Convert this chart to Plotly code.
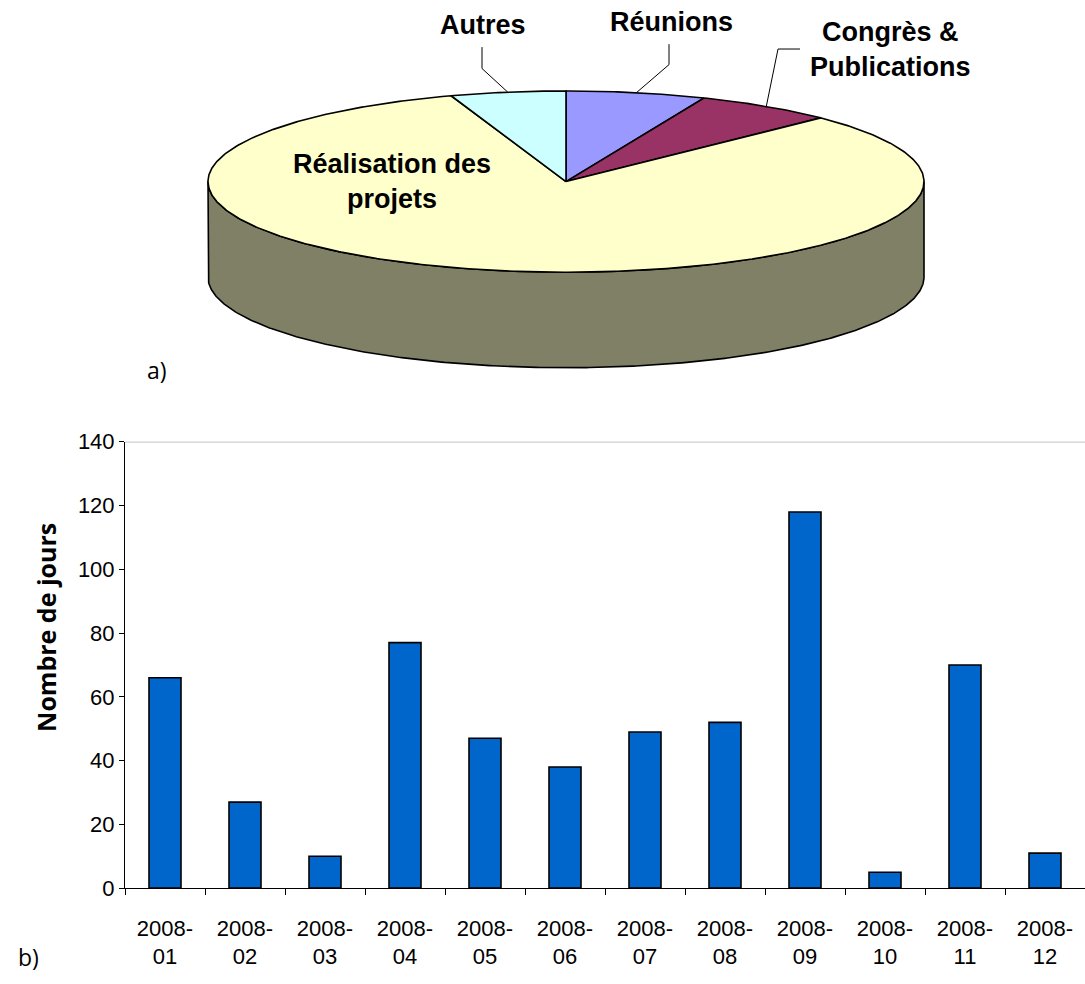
import numpy as np
import plotly.graph_objects as go

# ---- data -----------------------------------------------------------------
months = ["2008-01", "2008-02", "2008-03", "2008-04", "2008-05", "2008-06",
          "2008-07", "2008-08", "2008-09", "2008-10", "2008-11", "2008-12"]
jours = [66, 27, 10, 77, 47, 38, 49, 52, 118, 5, 70, 11]

pie_labels = ["Réunions", "Congrès & Publications", "Réalisation des projets", "Autres"]
pie_values = [6.3, 6.3, 82.2, 5.2]          # percent of time
pie_colors = ["#9999FF", "#993366", "#FFFFCC", "#CCFFFF"]
pie_side_colors = ["#4D4D80", "#4D1A33", "#808066", "#668080"]

y_ticks = [0, 20, 40, 60, 80, 100, 120, 140]

# ---- page geometry --------------------------------------------------------
W, H = 1085, 984
PIE_BAND = 392                      # height (px) of the top band for the pie
CX, CY, RX, RY, DEPTH = 566, 174, 358, 93, 98

ARIAL = "Liberation Sans, Arial, sans-serif"
CALIBRI = "Open Sans, Carlito, Calibri, sans-serif"


def ellipse_pts(a0, a1, dy=0.0):
    """Points of the tilted pie rim between angles a0..a1 (deg, clockwise from 12 o'clock)."""
    n = max(int(abs(a1 - a0) * 2), 2)
    t = np.radians(np.linspace(a0, a1, n))
    return CX + RX * np.sin(t), CY - RY * np.cos(t) + dy


fig = go.Figure()

# slice angles from the values
total = float(sum(pie_values))
bounds = np.concatenate([[0.0], np.cumsum(pie_values) / total * 360.0])

# outer wall (front half of the cylinder, 90..270 deg)
for i in range(len(pie_values)):
    lo, hi = max(bounds[i], 90.0), min(bounds[i + 1], 270.0)
    if lo < hi:
        tx, ty = ellipse_pts(lo, hi)
        bx, by = ellipse_pts(hi, lo, DEPTH)
        fig.add_trace(go.Scatter(
            x=np.concatenate([tx, bx, tx[:1]]), y=np.concatenate([ty, by, ty[:1]]),
            mode="lines", fill="toself", fillcolor=pie_side_colors[i],
            line=dict(color="black", width=1.6), xaxis="x2", yaxis="y2",
            hoverinfo="skip", showlegend=False))

# top faces
for i, lab in enumerate(pie_labels):
    ax, ay = ellipse_pts(bounds[i], bounds[i + 1])
    fig.add_trace(go.Scatter(
        x=np.concatenate([[CX], ax, [CX]]), y=np.concatenate([[CY], ay, [CY]]),
        mode="lines", fill="toself", fillcolor=pie_colors[i],
        line=dict(color="black", width=1.6), xaxis="x2", yaxis="y2",
        name=lab, hoverinfo="name", showlegend=False))

# slice labels and leader lines
label_layout = {
    "Réunions": dict(text="Réunions", pos=(671, 10), elbow=(669, 54), end=(669, 33)),
    "Congrès & Publications": dict(text="Congrès &<br>Publications", pos=(890, 38),
                                   elbow=(778, 38), end=(800, 38)),
    "Réalisation des projets": dict(text="Réalisation des<br>projets", pos=(392, 174)),
    "Autres": dict(text="Autres", pos=(483, 13), elbow=(482, 58), end=(482, 36)),
}
mids = (bounds[:-1] + bounds[1:]) / 2.0
annotations = []
for i, lab in enumerate(pie_labels):
    spec = label_layout[lab]
    if "elbow" in spec:
        t = np.radians(mids[i])
        ex, ey = CX + RX * np.sin(t), CY - RY * np.cos(t)
        fig.add_trace(go.Scatter(
            x=[ex, spec["elbow"][0], spec["end"][0]],
            y=[ey, spec["elbow"][1], spec["end"][1]],
            mode="lines", line=dict(color="black", width=1),
            xaxis="x2", yaxis="y2", hoverinfo="skip", showlegend=False))
    annotations.append(dict(
        text=spec["text"], x=spec["pos"][0], y=spec["pos"][1], xref="x2", yref="y2",
        showarrow=False, xanchor="center", yanchor="middle", align="center",
        font=dict(family=ARIAL, size=27, color="black", weight="bold")))

# ---- monthly bars ---------------------------------------------------------
fig.add_trace(go.Bar(
    x=[m.replace("-", "-<br>") for m in months], y=jours, width=0.4,
    marker=dict(color="#0066CC", line=dict(color="black", width=1.6)),
    showlegend=False, hovertemplate="%{y}<extra></extra>"))

annotations += [
    dict(text="a)", x=157 / W, y=1 - 367 / H, xref="paper", yref="paper",
         showarrow=False, xanchor="center", yanchor="middle",
         font=dict(family=CALIBRI, size=23, color="black")),
    dict(text="b)", x=28 / W, y=1 - 970 / H, xref="paper", yref="paper",
         showarrow=False, xanchor="center", yanchor="middle",
         font=dict(family=CALIBRI, size=23, color="black")),
    dict(text="Nombre de jours", x=46 / W, y=1 - 632 / H, xref="paper", yref="paper",
         showarrow=False, xanchor="center", yanchor="middle", textangle=-90,
         font=dict(family=CALIBRI, size=25, color="black", weight="bold")),
]

fig.update_layout(
    width=W, height=H, margin=dict(l=0, r=0, t=0, b=0),
    paper_bgcolor="white", plot_bgcolor="white",
    annotations=annotations,
    xaxis=dict(domain=[125 / W, 1], type="category", tickson="boundaries",
               ticks="outside", ticklen=6, tickcolor="black",
               showline=True, linecolor="black", linewidth=1, showgrid=False,
               ticklabelstandoff=20,
               tickfont=dict(family=ARIAL, size=22, color="black"),
               anchor="y"),
    yaxis=dict(domain=[1 - 899 / H, 1 - 441 / H], range=[0, 140], tickvals=y_ticks,
               ticks="outside", ticklen=5, tickcolor="black",
               showline=True, linecolor="black", linewidth=1,
               showgrid=False, zeroline=False,
               tickfont=dict(family=ARIAL, size=22, color="black"),
               anchor="x"),
    xaxis2=dict(domain=[0, 1], range=[0, W], visible=False, anchor="y2", fixedrange=True),
    yaxis2=dict(domain=[1 - PIE_BAND / H, 1], range=[PIE_BAND, 0], visible=False,
                anchor="x2", fixedrange=True),
)

# plot-area top border
fig.add_shape(type="line", xref="x domain", yref="y", x0=0, x1=1, y0=140, y1=140,
              line=dict(color="#808080", width=1))

fig.write_html("out.html")
